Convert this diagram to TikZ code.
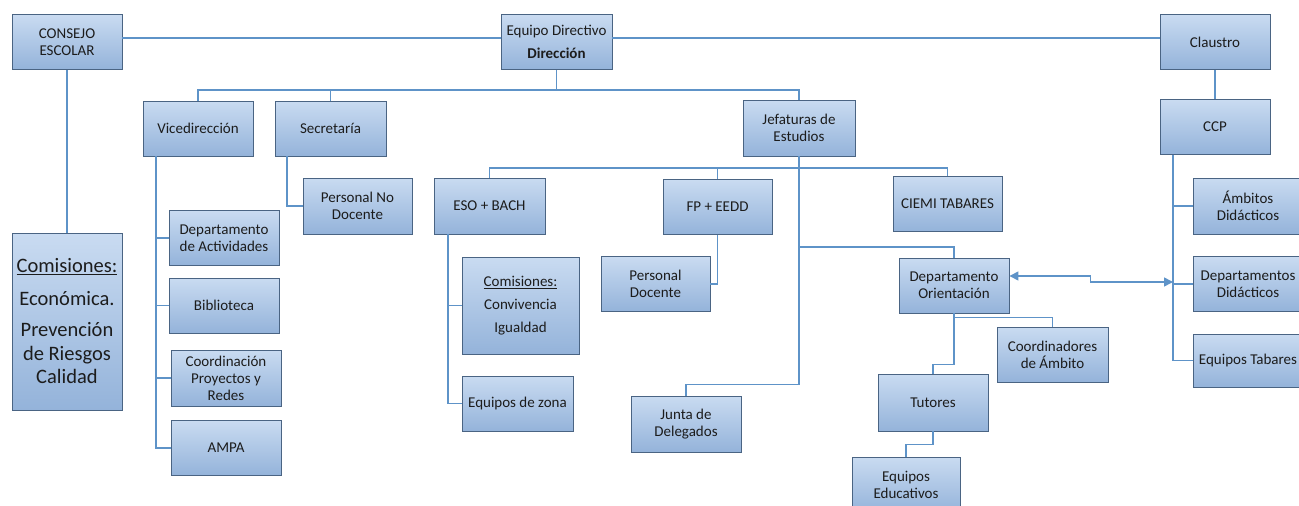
\documentclass[tikz,border=0pt]{standalone}
\usepackage{fontspec}
\setmainfont{Carlito}
\usepackage{tikz}
\usetikzlibrary{arrows.meta}
\definecolor{orgtop}{HTML}{C9DBF1}
\definecolor{orgbot}{HTML}{94B3DA}
\definecolor{orgedge}{HTML}{4A6483}
\definecolor{orgline}{HTML}{5E93C8}
\definecolor{orgtext}{HTML}{1C1C1C}
\tikzset{
  unit/.style={draw=orgedge,line width=0.9pt,top color=orgtop,bottom color=orgbot,align=center,inner sep=2pt,text=orgtext,font=\fontsize{15}{17}\selectfont,minimum width=110pt,minimum height=55pt},
  bigunit/.style={unit,font=\fontsize{20.5}{23.5}\selectfont},
  link/.style={draw=orgline,line width=1.8pt},
  twoway/.style={link,line width=1.5pt,{Triangle[length=9pt,width=9pt]}-{Triangle[length=9pt,width=9pt]}},
}
\begin{document}
\begin{tikzpicture}[x=1pt,y=-1pt]
  \useasboundingbox (0,0) rectangle (1299,506);

  \node[unit] (consejo) at (67,42) {CONSEJO\\ESCOLAR};
  \node[unit,minimum width=111pt] (equipo) at (556.5,42) {Equipo Directivo\\[6pt]\textbf{Dirección}};
  \node[unit] (claustro) at (1215,42) {Claustro};
  \node[unit] (vice) at (198,128.5) {Vicedirección};
  \node[unit,minimum width=111pt] (secre) at (330.5,128.5) {Secretaría};
  \node[unit,minimum width=112pt,minimum height=56pt] (jefat) at (799,128) {Jefaturas de\\Estudios};
  \node[unit] (ccp) at (1215,127) {CCP};
  \node[unit,minimum width=109pt,minimum height=56pt] (pnodoc) at (357.5,206) {Personal No\\Docente};
  \node[unit,minimum width=111pt,minimum height=56pt] (eso) at (489.5,206) {ESO + BACH};
  \node[unit,minimum width=109pt] (fp) at (717.5,207) {FP + EEDD};
  \node[unit,minimum width=109pt] (ciemi) at (947.5,204) {CIEMI TABARES};
  \node[unit,minimum height=56pt] (ambitos) at (1248,206) {Ámbitos\\Didácticos};
  \node[unit] (dact) at (224,238) {Departamento\\de Actividades};
  \node[bigunit,minimum height=177pt] (comis) at (67,321.5) {\underline{Comisiones:}\\[9pt]Económica.\\[8pt]Prevención\\de Riesgos\\Calidad};
  \node[unit,minimum width=117pt,minimum height=97pt,font=\fontsize{15}{23}\selectfont] (comeso) at (520.5,305.5) {\underline{Comisiones:}\\Convivencia\\Igualdad};
  \node[unit,minimum width=109pt] (pdoc) at (655.5,284) {Personal\\Docente};
  \node[unit] (dori) at (954,285.5) {Departamento\\Orientación};
  \node[unit] (ddid) at (1248,284) {Departamentos\\Didácticos};
  \node[unit] (biblio) at (224,305.5) {Biblioteca};
  \node[unit,minimum height=56pt] (coord) at (226,378) {Coordinación\\Proyectos y\\Redes};
  \node[unit,minimum width=111pt] (coordamb) at (1052.5,354.5) {Coordinadores\\de Ámbito};
  \node[unit,minimum height=53pt] (eqtab) at (1248,360.5) {Equipos Tabares};
  \node[unit,minimum height=57pt] (tutores) at (933,402.5) {Tutores};
  \node[unit,minimum width=111pt] (eqzona) at (517.5,403.5) {Equipos de zona};
  \node[unit,minimum height=56pt] (junta) at (686,424) {Junta de\\Delegados};
  \node[unit] (ampa) at (226,448) {AMPA};
  \node[unit,minimum width=108pt,minimum height=56pt] (eqedu) at (906,485) {Equipos\\Educativos};

  \coordinate (dirbus) at (556.5,90);
  \coordinate (jefbus) at (799,168);
  \coordinate (oribus) at (799,247);
  \coordinate (didjoin) at (1173,282);

  \draw[link] ([yshift=4pt]consejo.east) -- ([yshift=4pt]equipo.west);
  \draw[link] ([yshift=4pt]equipo.east) -- ([yshift=4pt]claustro.west);
  \draw[link] (consejo.south) -- (comis.north);
  \draw[link] (claustro.south) -- (ccp.north);
  \draw[link] (equipo.south) -- (dirbus);
  \draw[link] (vice.north) |- (dirbus) -| (jefat.north);
  \draw[link] (secre.north) -- (secre.north |- dirbus);
  \draw[link] ([xshift=-43.5pt]secre.south) |- (pnodoc.west);
  \foreach \sub in {dact,biblio,coord,ampa}
    \draw[link] ([xshift=-42pt]vice.south) |- (\sub.west);
  \draw[link] (jefat.south) -- (jefbus);
  \draw[link] (eso.north) |- (jefbus) -| (ciemi.north);
  \draw[link] (fp.north) -- (fp.north |- jefbus);
  \draw[link] (jefat.south) |- ([yshift=11pt]junta.north) -- (junta.north);
  \draw[link] (oribus) -| (dori.north);
  \foreach \sub in {comeso,eqzona}
    \draw[link] ([xshift=-41.5pt]eso.south) |- (\sub.west);
  \draw[link] (fp.south) |- (pdoc.east);
  \foreach \sub in {ambitos,ddid,eqtab}
    \draw[link] ([xshift=-42pt]ccp.south) |- (\sub.west);
  \draw[link] (dori.south) |- ([yshift=9pt]tutores.north) -- (tutores.north);
  \draw[link] ([yshift=-4pt]dori.south) -| (coordamb.north);
  \draw[link] (tutores.south) |- ([yshift=12pt]eqedu.north) -- (eqedu.north);
  \draw[twoway] ([yshift=9.5pt]dori.east) -- ++(81,0) |- (didjoin);
\end{tikzpicture}
\end{document}
